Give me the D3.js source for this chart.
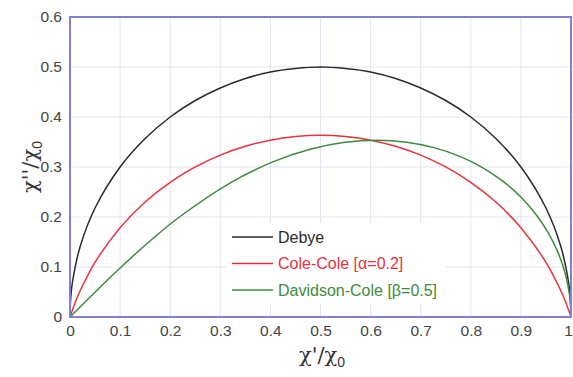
<!DOCTYPE html>
<html><head><meta charset="utf-8">
<script src="https://cdn.jsdelivr.net/npm/d3@7"></script>
<style>body{margin:0;background:#fff}svg{display:block}</style>
</head><body><svg id="c" width="573" height="377"></svg>
<script>
const xTicks = [0,0.1,0.2,0.3,0.4,0.5,0.6,0.7,0.8,0.9,1];
const yTicks = [0,0.1,0.2,0.3,0.4,0.5,0.6];
const xTickLabels = ["0","0.1","0.2","0.3","0.4","0.5","0.6","0.7","0.8","0.9","1"];
const yTickLabels = ["0","0.1","0.2","0.3","0.4","0.5","0.6"];
const seriesNames = ["Debye","Cole-Cole [α=0.2]","Davidson-Cole [β=0.5]"];
const seriesColors = ["#2b2b2b","#e8323c","#3c8c3c"];
// Debye (χ', χ'')
const debyeX = [0,0.001,0.002,0.005,0.02,0.05,0.1,0.15,0.2,0.25,0.3,0.35,0.4,0.45,0.5,0.55,0.6,0.65,0.7,0.75,0.8,0.85,0.9,0.95,0.98,0.995,0.998,0.999,1];
const debyeY = [0,0.0316,0.0447,0.0705,0.14,0.218,0.3,0.357,0.4,0.433,0.458,0.477,0.49,0.497,0.5,0.497,0.49,0.477,0.458,0.433,0.4,0.357,0.3,0.218,0.14,0.0705,0.0447,0.0316,0];
// Cole-Cole α=0.2
const coleX = [0,0.005,0.01,0.02,0.05,0.1,0.15,0.2,0.25,0.3,0.35,0.4,0.45,0.5,0.55,0.6,0.65,0.7,0.75,0.8,0.85,0.9,0.95,0.98,0.99,0.995,1];
const coleY = [0,0.0147,0.0281,0.052,0.1094,0.1787,0.2299,0.2693,0.3001,0.3238,0.3415,0.3537,0.3609,0.3633,0.3609,0.3537,0.3415,0.3238,0.3001,0.2693,0.2299,0.1787,0.1094,0.052,0.0281,0.0147,0];
// Davidson-Cole β=0.5
const dcX = [0,0.0942,0.166,0.2177,0.3192,0.4036,0.4791,0.5483,0.6124,0.6718,0.7266,0.7769,0.8225,0.8632,0.8989,0.9294,0.9547,0.9744,0.9886,0.9972,0.99955,0.99989,1];
const dcY = [0,0.0926,0.1575,0.1995,0.2679,0.3097,0.3354,0.3493,0.3536,0.3497,0.3388,0.3218,0.2994,0.2722,0.2409,0.2061,0.1683,0.1283,0.0865,0.0435,0.01745,0.00873,0];

const svg = d3.select("#c");
const L=70,R=571,T=17,B=317;
const x = d3.scaleLinear().domain([0,1]).range([L,R]);
const y = d3.scaleLinear().domain([0,0.6]).range([B,T]);
const grid = "#e4e4f2", frame="#7f7fd6", tick="#444";
const sans = "Liberation Sans, Arial, sans-serif";

// grid
svg.append("g").selectAll("line").data(xTicks.slice(1,-1)).join("line")
  .attr("x1",d=>x(d)).attr("x2",d=>x(d)).attr("y1",T).attr("y2",B).attr("stroke",grid).attr("stroke-width",1);
svg.append("g").selectAll("line").data(yTicks.slice(1,-1)).join("line")
  .attr("y1",d=>y(d)).attr("y2",d=>y(d)).attr("x1",L).attr("x2",R).attr("stroke",grid).attr("stroke-width",1);

// legend box (white, hides grid)
svg.append("rect").attr("x",226).attr("y",223).attr("width",220).attr("height",80).attr("fill","#fff");

const line = d3.line().x(d=>x(d[0])).y(d=>y(d[1])).curve(d3.curveCatmullRom.alpha(0.5));
const data = [d3.zip(debyeX,debyeY), d3.zip(coleX,coleY), d3.zip(dcX,dcY)];
data.forEach((pts,i)=>{
  svg.append("path").attr("d",line(pts)).attr("fill","none").attr("stroke",seriesColors[i]).attr("stroke-width",1.5);
});

// axes
const xa = svg.append("g").attr("transform",`translate(0,${B})`).call(d3.axisBottom(x).tickValues(xTicks).tickFormat((d,i)=>xTickLabels[i]).tickSize(0).tickPadding(8));
const ya = svg.append("g").attr("transform",`translate(${L},0)`).call(d3.axisLeft(y).tickValues(yTicks).tickFormat((d,i)=>yTickLabels[i]).tickSize(0).tickPadding(8));
[xa,ya].forEach(a=>{a.select(".domain").remove();a.selectAll("text").attr("fill",tick).attr("font-family",sans).attr("font-size",15.5);});
xa.selectAll(".tick").filter(d=>d===1).select("text").attr("dx",-3);

// frame
svg.append("rect").attr("x",L).attr("y",T).attr("width",R-L).attr("height",B-T).attr("fill","none").attr("stroke",frame).attr("stroke-width",2);

// legend
seriesNames.forEach((n,i)=>{
  const yy = 237 + i*26.5;
  svg.append("line").attr("x1",232).attr("x2",273).attr("y1",yy).attr("y2",yy).attr("stroke",seriesColors[i]).attr("stroke-width",1.4);
  svg.append("text").attr("x",278).attr("y",yy+5.5).text(n).attr("fill",seriesColors[i])
    .attr("font-family",sans).attr("font-size",16);
});

// axis titles
const xt = svg.append("text").attr("x",322).attr("y",362).attr("text-anchor","middle").attr("fill","#333")
  .attr("font-family","DejaVu Serif, serif").attr("font-size",21);
xt.append("tspan").text("χ'/χ");
xt.append("tspan").text("0").attr("font-size",14).attr("dy",5).attr("font-family",sans);
const yt = svg.append("text").attr("transform","translate(37,167) rotate(-90)").attr("text-anchor","middle").attr("fill","#333")
  .attr("font-family","DejaVu Serif, serif").attr("font-size",21);
yt.append("tspan").text("χ''/χ");
yt.append("tspan").text("0").attr("font-size",14).attr("dy",5).attr("font-family",sans);
</script></body></html>
